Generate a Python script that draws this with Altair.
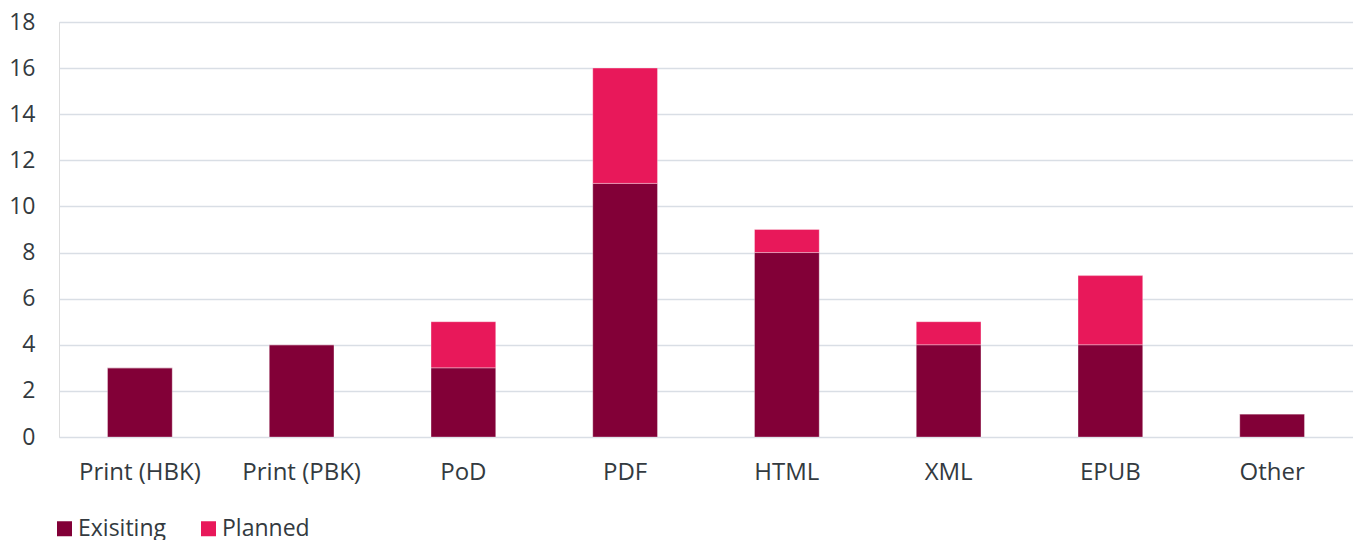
import altair as alt
import pandas as pd

categories = ["Print (HBK)", "Print (PBK)", "PoD", "PDF", "HTML", "XML", "EPUB", "Other"]
existing = [3, 4, 3, 11, 8, 4, 4, 1]
planned = [0, 0, 2, 5, 1, 1, 3, 0]
series = ["Exisiting", "Planned"]
y_ticks = list(range(0, 19, 2))

rows = []
for c, e, p in zip(categories, existing, planned):
    rows.append({"category": c, "series": series[0], "value": e, "ord": 0})
    rows.append({"category": c, "series": series[1], "value": p, "ord": 1})
df = pd.DataFrame(rows)

FONT = "Open Sans"
TXT = "#333a40"

chart = alt.Chart(df).mark_bar(
    stroke="#ffffff", strokeWidth=0.8, strokeOpacity=0.4
).encode(
    x=alt.X("category:N", sort=categories, title=None,
            scale=alt.Scale(paddingInner=0.6, paddingOuter=0.3),
            axis=alt.Axis(labelAngle=0, labelFontSize=24, labelPadding=23,
                          ticks=False, domain=False, labelColor=TXT, labelFont=FONT)),
    y=alt.Y("value:Q", stack="zero", title=None,
            scale=alt.Scale(domain=[0, 18], nice=False),
            axis=alt.Axis(values=y_ticks, labelFontSize=23, labelPadding=24,
                          ticks=False, domain=False, labelColor=TXT, labelFont=FONT,
                          gridColor="#d9dee5", gridWidth=1.5)),
    color=alt.Color("series:N", sort=series, title=None,
                    scale=alt.Scale(domain=series, range=["#820037", "#e8185a"]),
                    legend=alt.Legend(orient="none", legendX=-6, legendY=495,
                                      direction="horizontal", symbolType="square",
                                      symbolSize=225, symbolStrokeWidth=0,
                                      labelFontSize=23, labelFont=FONT, labelColor=TXT,
                                      columnPadding=31, labelOffset=2)),
    order=alt.Order("ord:Q"),
).properties(
    width=1294, height=415, padding={"left": 0, "top": 3, "right": 0, "bottom": 0}
).configure_view(stroke=None).configure(background="white")

chart.save("out.html", embed_options={"renderer": "svg", "actions": False})
